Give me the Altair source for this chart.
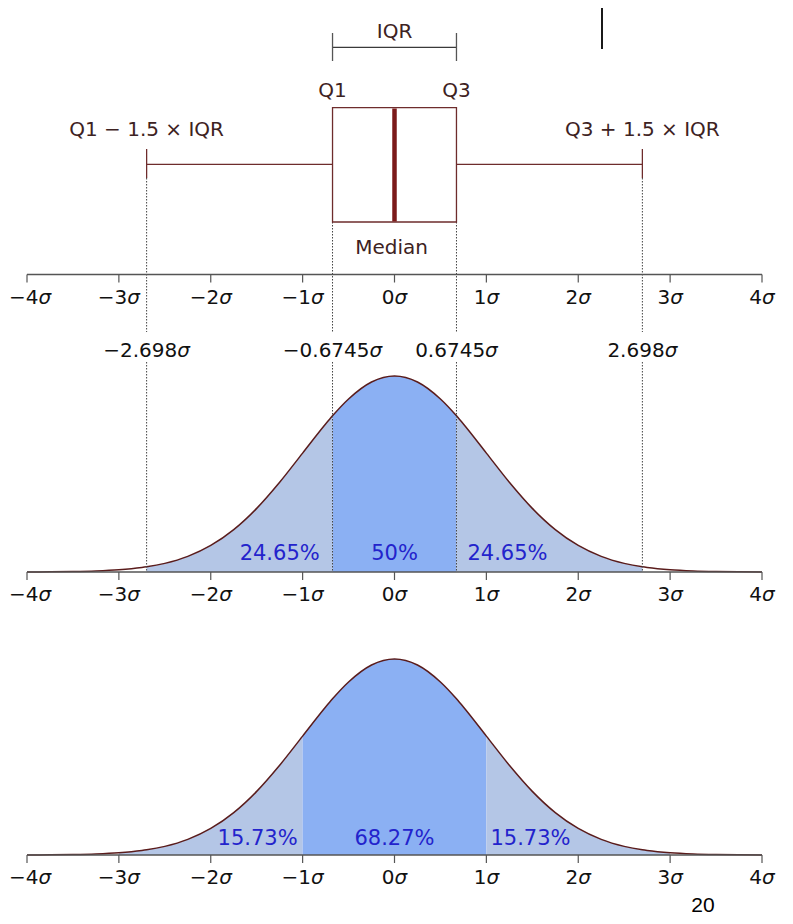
import altair as alt
import pandas as pd

# ---------------- data ----------------
SIGMA_TICKS = [-4, -3, -2, -1, 0, 1, 2, 3, 4]
SIGMA_LABELS = ["−4σ", "−3σ", "−2σ", "−1σ", "0σ", "1σ", "2σ", "3σ", "4σ"]

QUARTILES = [-0.6745, 0.6745]
QUARTILE_LABELS = ["−0.6745σ", "0.6745σ"]
WHISKERS = [-2.698, 2.698]
WHISKER_LABELS = ["−2.698σ", "2.698σ"]
MEDIAN = 0.0

# standard normal density, read at these sigma positions
X = [-4.0, -3.75, -3.5, -3.25, -3.0, -2.75, -2.698, -2.5, -2.25, -2.0, -1.75, -1.5,
     -1.25, -1.0, -0.75, -0.6745, -0.5, -0.25, 0.0, 0.25, 0.5, 0.6745, 0.75, 1.0,
     1.25, 1.5, 1.75, 2.0, 2.25, 2.5, 2.698, 2.75, 3.0, 3.25, 3.5, 3.75, 4.0]
PDF = [0.000134, 0.000353, 0.000873, 0.002029, 0.004432, 0.009094, 0.010478, 0.017528,
       0.031740, 0.053991, 0.086277, 0.129518, 0.182649, 0.241971, 0.301137, 0.317777,
       0.352065, 0.386668, 0.398942, 0.386668, 0.352065, 0.317777, 0.301137, 0.241971,
       0.182649, 0.129518, 0.086277, 0.053991, 0.031740, 0.017528, 0.010478, 0.009094,
       0.004432, 0.002029, 0.000873, 0.000353, 0.000134]

MID_BOUNDS = [-2.698, -0.6745, 0.6745, 2.698]
MID_KINDS = ["light", "center", "light"]
MID_PCT = ["24.65%", "50%", "24.65%"]
MID_PCT_POS = [-1.25, 0.0, 1.23]

BOT_BOUNDS = [-3.0, -1.0, 1.0, 3.0]
BOT_KINDS = ["light", "center", "light"]
BOT_PCT = ["15.73%", "68.27%", "15.73%"]
BOT_PCT_POS = [-1.49, 0.0, 1.48]

# ---------------- styling ----------------
FONT = "DejaVu Sans"
BROWN = "#3d2222"
BOX = "#6e2c2c"
CURVE = "#5a1c1c"
AXIS = "#555555"
LIGHT = "#b4c6e6"
CENTER = "#8bb0f3"
PCT = "#2323cc"
K = 491.4  # px per density unit
X0, X1 = 19, 754
PX = (X1 - X0) / 8.0

XS = alt.Scale(domain=[-4, 4], range=[X0, X1])
YS = alt.Scale(domain=[0, 908], range=[0, 908], zero=False, nice=False)

# DejaVu Sans advance widths (em) used to centre "number + italic sigma" labels
ADV = {"−": 0.838, ".": 0.318, "σ": 0.634}


def adv(s):
    return sum(ADV.get(c, 0.636) for c in s)


def xq(field="x"):
    return alt.X(f"{field}:Q", scale=XS, axis=None)


def segs(bounds, kinds):
    rows = []
    for i, kind in enumerate(kinds):
        lo, hi = bounds[i], bounds[i + 1]
        for x, p in zip(X, PDF):
            if lo - 1e-9 <= x <= hi + 1e-9:
                rows.append({"x": x, "pdf": p, "kind": kind, "seg": i})
    return pd.DataFrame(rows)


curve_df = pd.DataFrame({"x": X, "pdf": PDF})
color = alt.Color("kind:N", scale=alt.Scale(domain=["light", "center"], range=[LIGHT, CENTER]), legend=None)


def panel(bounds, kinds, base):
    calc = f"{base} - datum.pdf * {K}"
    area = alt.Chart(segs(bounds, kinds)).transform_calculate(py=calc).mark_area(
        interpolate="monotone", opacity=1).encode(
        x=xq(), y=alt.Y("py:Q", scale=YS, axis=None, stack=None), y2=alt.value(base),
        color=color, detail="seg:N")
    line = alt.Chart(curve_df).transform_calculate(py=calc).mark_line(
        interpolate="monotone", color=CURVE, strokeWidth=1.5).encode(
        x=xq(), y=alt.Y("py:Q", scale=YS, axis=None))
    return [area, line]


def sigma_text(xs, labels, py, color, size=20):
    """number in upright type, sigma in italic, centred together on x."""
    rows = []
    for x, lab in zip(xs, labels):
        num = lab[:-1]
        w = adv(lab) * size
        left = X0 + (x + 4) * PX - w / 2
        left = max(left, 1.0)
        split = left + adv(num) * size
        rows.append({"xs": (split - X0) / PX - 4, "num": num, "sig": "σ"})
    df = pd.DataFrame(rows)
    base = alt.Chart(df)
    num = base.mark_text(font=FONT, fontSize=size, color=color, baseline="alphabetic", align="right").encode(
        x=xq("xs"), y=alt.value(py), text="num:N")
    sig = base.mark_text(font=FONT, fontSize=size, color=color, baseline="alphabetic", align="left",
                         fontStyle="italic").encode(
        x=xq("xs"), y=alt.value(py), text="sig:N")
    return [num, sig]


def axis_layers(py):
    df = pd.DataFrame({"x": SIGMA_TICKS})
    span = pd.DataFrame({"lo": [SIGMA_TICKS[0]], "hi": [SIGMA_TICKS[-1]]})
    line = alt.Chart(span).mark_rule(color=AXIS, strokeWidth=1.6).encode(
        x=xq("lo"), x2="hi:Q", y=alt.value(py))
    ticks = alt.Chart(df).mark_rule(color=AXIS, strokeWidth=1.2).encode(
        x=xq(), y=alt.value(py), y2=alt.value(py + 8))
    return [line, ticks] + sigma_text(SIGMA_TICKS, SIGMA_LABELS, py + 29, "#111111")


def text_layer(xs, labels, py, color, size=20, dx=0):
    df = pd.DataFrame({"x": xs, "label": labels})
    return alt.Chart(df).mark_text(font=FONT, fontSize=size, color=color, baseline="alphabetic", dx=dx).encode(
        x=xq(), y=alt.value(py), text="label:N")


def vrules(xs, y1, y2, **kw):
    df = pd.DataFrame({"x": xs})
    return alt.Chart(df).mark_rule(**kw).encode(x=xq(), y=alt.value(y1), y2=alt.value(y2))


dotted = dict(color="#444444", strokeWidth=1, strokeDash=[1.5, 1.5])

layers = []
layers += panel(MID_BOUNDS, MID_KINDS, 564)
layers += panel(BOT_BOUNDS, BOT_KINDS, 847)

# dotted guides
layers.append(vrules(WHISKERS, 170, 324, **dotted))
layers.append(vrules(QUARTILES, 214, 324, **dotted))
layers.append(vrules(WHISKERS + QUARTILES, 354, 564, **dotted))

# axes
layers += axis_layers(266.5)
layers += axis_layers(564)
layers += axis_layers(847)

# box plot
box_df = pd.DataFrame({"q1": [QUARTILES[0]], "q3": [QUARTILES[1]]})
layers.append(alt.Chart(box_df).mark_rect(fill="white", stroke=BOX, strokeWidth=1.3).encode(
    x=xq("q1"), x2="q3:Q", y=alt.value(99.7), y2=alt.value(214)))
layers.append(vrules([MEDIAN], 100.5, 213.5, color="#7b1a1a", strokeWidth=4.5))
wh_df = pd.DataFrame({"a": WHISKERS, "b": QUARTILES})
layers.append(alt.Chart(wh_df).mark_rule(color=BOX, strokeWidth=1.3).encode(
    x=xq("a"), x2="b:Q", y=alt.value(156.3)))
layers.append(vrules(WHISKERS, 141, 170, color=BOX, strokeWidth=1.3))

# IQR bracket
layers.append(alt.Chart(box_df).mark_rule(color="#3a3a3a", strokeWidth=1.3).encode(
    x=xq("q1"), x2="q3:Q", y=alt.value(39.3)))
layers.append(vrules(QUARTILES, 25, 53, color="#555555", strokeWidth=1.3))

# box labels
layers.append(text_layer([MEDIAN], ["IQR"], 30, BROWN))
layers.append(text_layer(QUARTILES, ["Q1", "Q3"], 89, BROWN))
layers.append(text_layer(WHISKERS, ["Q1 − 1.5 × IQR", "Q3 + 1.5 × IQR"], 128, BROWN))
layers.append(text_layer([MEDIAN], ["Median"], 246, BROWN, dx=-3))
layers += sigma_text(WHISKERS + QUARTILES, WHISKER_LABELS + QUARTILE_LABELS, 349, "#111111")

# percentages
layers.append(text_layer(MID_PCT_POS, MID_PCT, 552, PCT, size=21))
layers.append(text_layer(BOT_PCT_POS, BOT_PCT, 837, PCT, size=21))

# slide decorations
deco = pd.DataFrame({"t": ["20"]})
layers.append(alt.Chart(deco).mark_rule(color="black", strokeWidth=1.8).encode(
    x=alt.value(594), y=alt.value(0), y2=alt.value(41)))
layers.append(alt.Chart(deco).mark_text(font="Liberation Sans", fontSize=21, color="black",
                                         baseline="alphabetic").encode(
    x=alt.value(695), y=alt.value(904), text="t:N"))

chart = alt.layer(*layers).properties(
    width=777, height=908, padding=0, autosize="none", background="white"
).configure_view(stroke=None)

chart.save("out.html", embed_options={"renderer": "svg", "actions": False})
